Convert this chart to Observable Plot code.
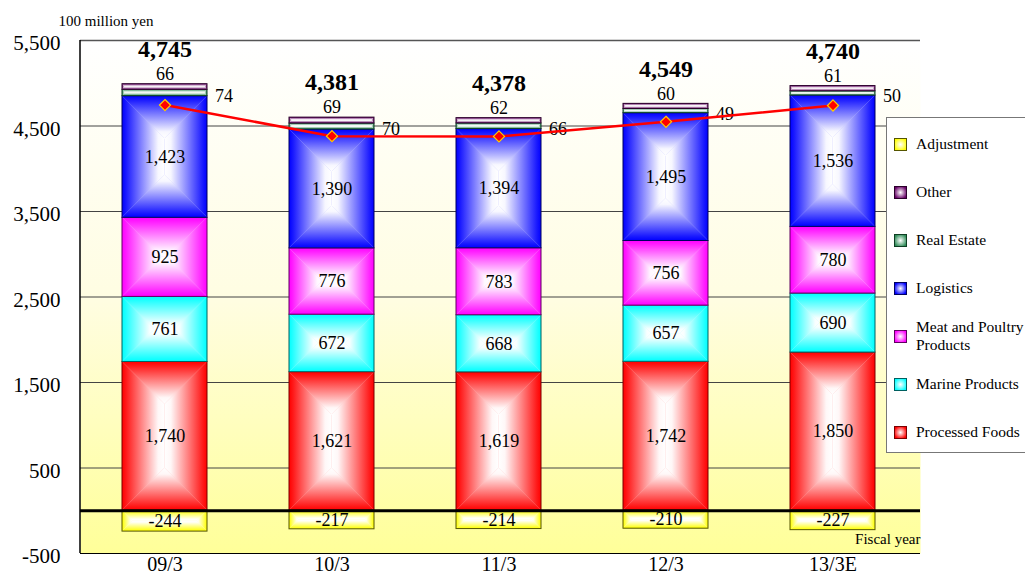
<!DOCTYPE html>
<html>
<head>
<meta charset="utf-8">
<script src="https://cdn.jsdelivr.net/npm/d3@7"></script>
<script src="https://cdn.jsdelivr.net/npm/@observablehq/plot@0.6"></script>
<style>
  html, body { margin: 0; padding: 0; background: #ffffff; overflow: hidden; }
  #wrap { position: relative; width: 1025px; height: 576px; overflow: hidden;
          font-family: "Liberation Serif", "Times New Roman", serif; }
  #chart { position: absolute; left: 0; top: 0; }
  #legend { position: absolute; left: 886px; top: 117px; width: 170px; height: 336px;
            border: 1.5px solid #777; background: #ffffff; box-sizing: border-box; padding-top: 2px; }
  .item { display: flex; align-items: center; height: 48px; }
  .sw { width: 11px; height: 11px; border: 1px solid #222; margin-left: 7px; flex: none; }
  .lbl { margin-left: 9px; font-size: 15.5px; line-height: 18px; color: #000; white-space: nowrap; }
</style>
</head>
<body>
<div id="wrap">
  <div id="chart"></div>
  <div id="legend"></div>
</div>
<script>
// ---- data ----
const fiscalYears = ["09/3", "10/3", "11/3", "12/3", "13/3E"];
const seriesNames = ["Processed Foods", "Marine Products", "Meat and Poultry Products", "Logistics", "Real Estate", "Other", "Adjustment"];
const processedFoods = [1740, 1621, 1619, 1742, 1850];
const marineProducts = [761, 672, 668, 657, 690];
const meatPoultry = [925, 776, 783, 756, 780];
const logistics = [1423, 1390, 1394, 1495, 1536];
const realEstate = [74, 70, 66, 49, 50];
const other = [66, 69, 62, 60, 61];
const adjustment = [-244, -217, -214, -210, -227];
const totals = [4745, 4381, 4378, 4549, 4740];
const yTicks = [-500, 500, 1500, 2500, 3500, 4500, 5500];
const legendOrder = ["Adjustment", "Other", "Real Estate", "Logistics", "Meat and Poultry Products", "Marine Products", "Processed Foods"];

// ---- styles ----
const seriesColors = ["#FF0000", "#00FFFF", "#FF00FF", "#0000FF", "#2E8B57", "#660066", "#FFFF00"];
const seriesStrokes = ["#7a0000", "#006060", "#600060", "#000060", "#0d3d22", "#2a002a", "#555500"];

const seriesValues = [processedFoods, marineProducts, meatPoultry, logistics, realEstate, other, adjustment];
const rows = [];
fiscalYears.forEach((year, i) => {
  seriesNames.forEach((s, k) => rows.push({year, series: s, k, value: seriesValues[k][i]}));
});
const totalRows = fiscalYears.map((year, i) => ({year, total: totals[i], i}));
const fmt = d3.formatLocale({decimal: ".", thousands: ",", grouping: [3], currency: ["", ""], minus: "-"}).format(",");
const inner = new Set(["Processed Foods", "Marine Products", "Meat and Poultry Products", "Logistics", "Adjustment"]);

const leftAxisLine = (index, scales, values, dims) => {
  const l = document.createElementNS("http://www.w3.org/2000/svg", "line");
  l.setAttribute("x1", dims.marginLeft); l.setAttribute("x2", dims.marginLeft);
  l.setAttribute("y1", dims.marginTop); l.setAttribute("y2", dims.height - dims.marginBottom);
  l.setAttribute("stroke", "#000"); l.setAttribute("stroke-width", 1.5);
  return l;
};

const svg = Plot.plot({
  width: 1025,
  height: 576,
  marginLeft: 80,
  marginRight: 105,
  marginTop: 40,
  marginBottom: 23,
  style: {fontFamily: "'Liberation Serif', 'Times New Roman', serif", background: "transparent", color: "#000", overflow: "visible"},
  x: {domain: fiscalYears, paddingInner: 0.494, paddingOuter: 0.25, align: 0.48, label: null},
  y: {domain: [-500, 5500], label: null},
  color: {type: "identity"},
  marks: [
    Plot.frame({fill: "url(#bgGrad)", stroke: null}),
    Plot.ruleY(yTicks.filter(d => d > -500 && d < 5500), {stroke: "#444", strokeWidth: 1}),
    Plot.ruleY([5500], {stroke: "#555", strokeWidth: 1.5}),
    Plot.ruleY([-500], {stroke: "#000", strokeWidth: 1.2}),
    leftAxisLine,
    Plot.axisX({tickSize: 0, tickPadding: 3, fontSize: 20}),
    Plot.axisY(yTicks, {tickSize: 0, tickPadding: 20, tickFormat: fmt, fontSize: 21, dy: 3}),
    Plot.barY(rows, {
      x: "year", y: "value", z: "series",
      fill: d => `url(#seg${d.k})`,
      stroke: d => seriesStrokes[d.k],
      strokeWidth: 1
    }),
    Plot.ruleY([0], {stroke: "#000", strokeWidth: 3}),
    Plot.text(rows, Plot.stackY({
      x: "year", y: "value", z: "series",
      text: d => inner.has(d.series) ? fmt(d.value) : "",
      fontSize: 18
    })),
    Plot.text(rows, Plot.stackY({
      x: "year", y: "value", z: "series",
      text: d => d.series === "Real Estate" ? fmt(d.value) : "",
      textAnchor: "start", dx: 50, dy: 3, fontSize: 18
    })),
    Plot.text(rows, Plot.stackY2({
      x: "year", y: "value", z: "series",
      text: d => d.series === "Other" ? fmt(d.value) : "",
      dy: -10, fontSize: 18
    })),
    Plot.text(rows, Plot.stackY2({
      x: "year", y: "value", z: "series",
      text: d => d.series === "Other" ? fmt(totals[fiscalYears.indexOf(d.year)]) : "",
      dy: -35, fontSize: 24, fontWeight: "bold"
    })),
    Plot.line(totalRows, {x: "year", y: "total", stroke: "#FF0000", strokeWidth: 2.5}),
    Plot.dot(totalRows, {x: "year", y: "total", symbol: "diamond2", r: 5, fill: "#FF0000", stroke: "#FFCC00", strokeWidth: 1.2}),
    Plot.text(["Fiscal year"], {frameAnchor: "bottom-right", text: d => d, textAnchor: "end", dy: -10, fontSize: 15}),
    Plot.text(["100 million yen"], {frameAnchor: "top-left", text: d => d, textAnchor: "start", dx: -22, dy: -25, fontSize: 15})
  ]
});

// gradients
const defs = d3.select(svg).insert("defs", ":first-child");
const bg = defs.append("linearGradient").attr("id", "bgGrad").attr("x1", 0).attr("y1", 0).attr("x2", 0).attr("y2", 1);
bg.append("stop").attr("offset", 0).attr("stop-color", "#FFFFFF");
bg.append("stop").attr("offset", 0.5).attr("stop-color", "#FFFDE2");
bg.append("stop").attr("offset", 1).attr("stop-color", "#FFFF99");
const dirs = {L: [0, 0, 1, 0, false], R: [0, 0, 1, 0, true], T: [0, 0, 0, 1, false], B: [0, 0, 0, 1, true]};
seriesColors.forEach((c, k) => {
  const g = defs.append("radialGradient").attr("id", `seg${k}`).attr("cx", 0.5).attr("cy", 0.5).attr("r", 0.6);
  g.append("stop").attr("offset", 0).attr("stop-color", "#FFFFFF");
  g.append("stop").attr("offset", 1).attr("stop-color", c);
  Object.entries(dirs).forEach(([key, [x1, y1, x2, y2, rev]]) => {
    const lg = defs.append("linearGradient").attr("id", `seg${k}${key}`)
      .attr("x1", x1).attr("y1", y1).attr("x2", x2).attr("y2", y2);
    // [distance from edge, whiteness]
    let stops = [[0, 0], [0.1, 0.1], [0.85, 0.97], [1, 1]].map(([o, wt]) => [rev ? 1 - o : o, wt]);
    stops.sort((a, b) => a[0] - b[0]);
    stops.forEach(([o, wt]) => {
      lg.append("stop").attr("offset", o).attr("stop-color", d3.interpolateRgb(c, "#FFFFFF")(wt));
    });
  });
});

// "from centre" rectangular gradient: split each bar drawn by Plot into four mitred pieces
d3.select(svg).selectAll("rect").each(function() {
  const f = this.getAttribute("fill");
  if (!f || !f.startsWith("url(#seg")) return;
  const k = f.slice(8, -1);
  const x = +this.getAttribute("x"), y = +this.getAttribute("y");
  const w = +this.getAttribute("width"), h = +this.getAttribute("height");
  const m = Math.min(w, h) / 2;
  const parent = this.parentNode;
  const polys = [
    [[[x, y], [x + m, y + m], [x + m, y + h - m], [x, y + h]], "L"],
    [[[x + w, y], [x + w - m, y + m], [x + w - m, y + h - m], [x + w, y + h]], "R"],
    [[[x, y], [x + w, y], [x + w - m, y + m], [x + m, y + m]], "T"],
    [[[x, y + h], [x + w, y + h], [x + w - m, y + h - m], [x + m, y + h - m]], "B"]
  ];
  const base = document.createElementNS("http://www.w3.org/2000/svg", "rect");
  ["x", "y", "width", "height"].forEach(a => base.setAttribute(a, this.getAttribute(a)));
  base.setAttribute("fill", d3.interpolateRgb(seriesColors[k], "#FFFFFF")(0.75));
  parent.insertBefore(base, this);
  polys.forEach(([pts, key]) => {
    const el = document.createElementNS("http://www.w3.org/2000/svg", "polygon");
    el.setAttribute("points", pts.map(q => q.join(",")).join(" "));
    el.setAttribute("fill", `url(#seg${k}${key})`);
    el.setAttribute("stroke", "none");
    parent.insertBefore(el, this);
  });
  this.setAttribute("fill", "none");
});

document.getElementById("chart").appendChild(svg);

// legend
const legend = d3.select("#legend");
legendOrder.forEach(name => {
  const k = seriesNames.indexOf(name);
  const item = legend.append("div").attr("class", "item");
  item.append("div").attr("class", "sw")
    .style("background", `radial-gradient(circle, #ffffff 0%, ${seriesColors[k]} 85%)`)
    .style("border-color", seriesStrokes[k]);
  item.append("div").attr("class", "lbl")
    .html(name === "Meat and Poultry Products" ? "Meat and Poultry<br>Products" : name);
});
</script>
</body>
</html>
